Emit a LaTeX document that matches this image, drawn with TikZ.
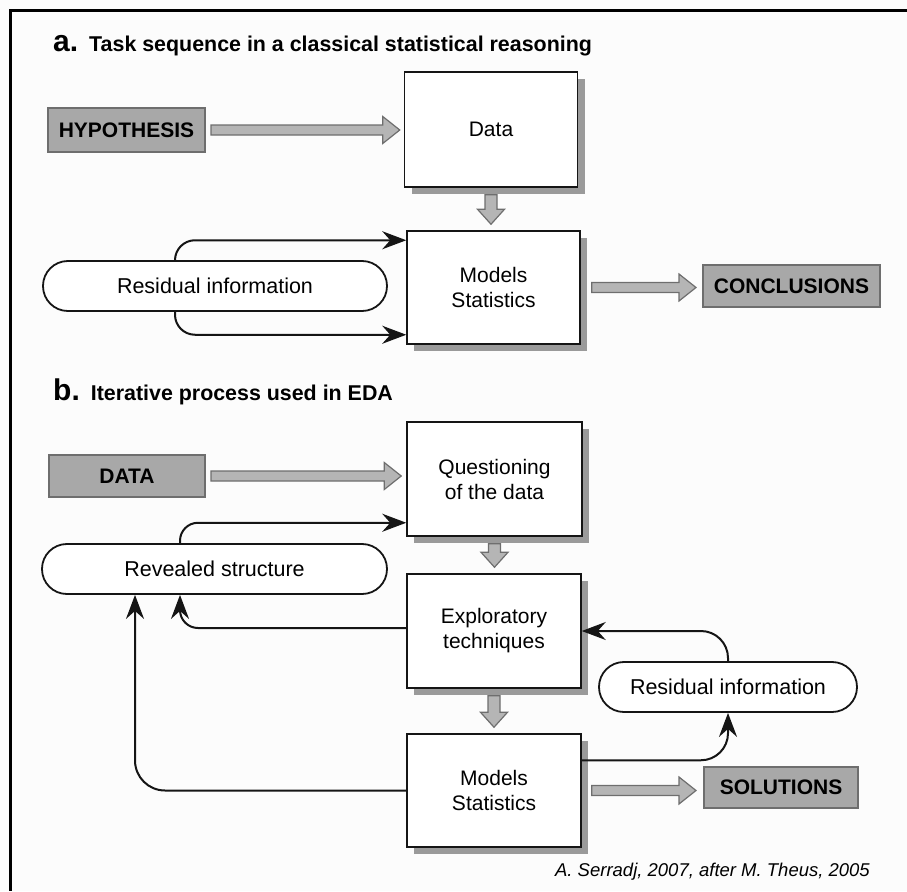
\documentclass[tikz,border=0pt]{standalone}
\usepackage{fontspec}
\setmainfont{Liberation Sans}
\usetikzlibrary{calc,arrows.meta,shadows}

\definecolor{bgc}{HTML}{FCFCFC}
\definecolor{gboxc}{HTML}{A8A8A8}
\definecolor{gborder}{HTML}{6E6E6E}
\definecolor{garrow}{HTML}{B5B5B5}
\definecolor{shadowc}{HTML}{9A9A9A}
\definecolor{linec}{HTML}{151515}

\tikzset{
  wbox/.style={draw=linec, line width=1.5pt, fill=white, align=center,
    font=\fontsize{21}{25}\selectfont, inner sep=0pt,
    drop shadow={shadow xshift=7pt, shadow yshift=-7pt, fill=shadowc, opacity=1}},
  gbox/.style={draw=gborder, line width=2pt, fill=gboxc, inner sep=0pt,
    font=\fontsize{21}{21}\selectfont\bfseries},
  stad/.style={draw=linec, line width=1.8pt, fill=white, rounded corners=24.9pt,
    inner sep=0pt, font=\fontsize{21.5}{25}\selectfont},
  blk/.style={draw=gborder, line width=1.2pt, fill=garrow, line join=miter},
  conn/.style={draw=linec, line width=2pt,
    -{Stealth[length=24pt,width=18pt,inset=8pt]}},
  ttl/.style={anchor=base west, inner sep=0pt}
}

\newcommand\harr[4]{% from, to, start gap, end gap
  \draw[blk] let \p1=($(#1.east)+(#3,0pt)$), \p2=($(#2.west)+(-#4,0pt)$) in
    (\x1,\y1+5pt) -- (\x2-17pt,\y1+5pt) -- (\x2-17pt,\y1+13.5pt) -- (\x2,\y1)
    -- (\x2-17pt,\y1-13.5pt) -- (\x2-17pt,\y1-5pt) -- (\x1,\y1-5pt) -- cycle;}
\newcommand\varr[2]{%
  \draw[blk] let \p1=($(#1.south)+(0pt,-7pt)$), \p2=($(#2.north)+(0pt,6pt)$) in
    (\x1-6pt,\y1) -- (\x1-6pt,\y2+15pt) -- (\x1-13.5pt,\y2+15pt) -- (\x1,\y2)
    -- (\x1+13.5pt,\y2+15pt) -- (\x1+6pt,\y2+15pt) -- (\x1+6pt,\y1) -- cycle;}

\begin{document}
\begin{tikzpicture}[x=1pt,y=-1pt]
\useasboundingbox (0,0) rectangle (907,891);
\fill[bgc] (0,0) rectangle (907,891);
\draw[line width=3pt, draw=black] (907,10.5) -- (10.5,10.5) -- (10.5,891);

% titles
\node[ttl] (ta) at (53,52) {\fontsize{30}{30}\selectfont\bfseries a.\hspace{11pt}\fontsize{21.4}{21.4}\selectfont Task sequence in a classical statistical reasoning};
\node[ttl] (tb) at (53,400) {\fontsize{30}{30}\selectfont\bfseries b.\hspace{11pt}\fontsize{21.4}{21.4}\selectfont Iterative process used in EDA};

% section a
\node[gbox, minimum width=157pt, minimum height=44pt] (hyp) at (126.5,130) {HYPOTHESIS};
\node[wbox, minimum width=173pt, minimum height=115pt] (data) at (491,129.5) {Data};
\node[wbox, minimum width=173pt, minimum height=113pt] (modA) at (493.5,287.5) {Models\\Statistics};
\node[gbox, minimum width=177pt, minimum height=42pt] (concl) at (791.5,286) {CONCLUSIONS};
\node[stad, minimum width=344pt, minimum height=50pt] (resA) at (215,286) {Residual information};

\harr{hyp}{data}{5pt}{4pt}
\varr{data}{modA}
\harr{modA}{concl}{11pt}{6pt}
\draw[conn, rounded corners=20pt] ([xshift=-40pt]resA.north) |- ([yshift=-10pt]modA.north west);
\draw[conn, rounded corners=20pt] ([xshift=-40pt]resA.south) |- ([yshift=10pt]modA.south west);

% section b
\node[gbox, minimum width=156pt, minimum height=42pt] (dat) at (127,476) {DATA};
\node[wbox, minimum width=175pt, minimum height=114pt] (quest) at (494.5,479) {Questioning\\of the data};
\node[stad, minimum width=345pt, minimum height=50pt] (revS) at (214.5,569) {Revealed structure};
\node[wbox, minimum width=174pt, minimum height=114pt] (expl) at (494,631) {Exploratory\\techniques};
\node[wbox, minimum width=174pt, minimum height=113pt] (modB) at (494,790.5) {Models\\Statistics};
\node[stad, minimum width=258pt, minimum height=50pt] (resB) at (728,687) {Residual information};
\node[gbox, minimum width=154pt, minimum height=41pt] (sol) at (781,787.5) {SOLUTIONS};

\harr{dat}{quest}{5pt}{5pt}
\varr{quest}{expl}
\varr{expl}{modB}
\harr{modB}{sol}{10pt}{7pt}

\draw[conn, rounded corners=18pt] ([xshift=-34.5pt]revS.north) |- ([yshift=14pt]quest.south west);
\draw[conn, rounded corners=18pt] ([yshift=3pt]expl.west) -| ([xshift=-34.5pt]revS.south);
\draw[conn, rounded corners=30pt] (modB.west) -| ([xshift=-79.5pt]revS.south);
\draw[conn, rounded corners=27pt] (resB.north) |- (expl.east);
\draw[conn, rounded corners=27pt] ([yshift=-27pt]modB.north east) -| (resB.south);

\node[anchor=east, inner sep=0pt, font=\fontsize{18.5}{18.5}\selectfont\itshape] (credit) at (870,872) {A. Serradj, 2007, after M. Theus, 2005};
\end{tikzpicture}
\end{document}
